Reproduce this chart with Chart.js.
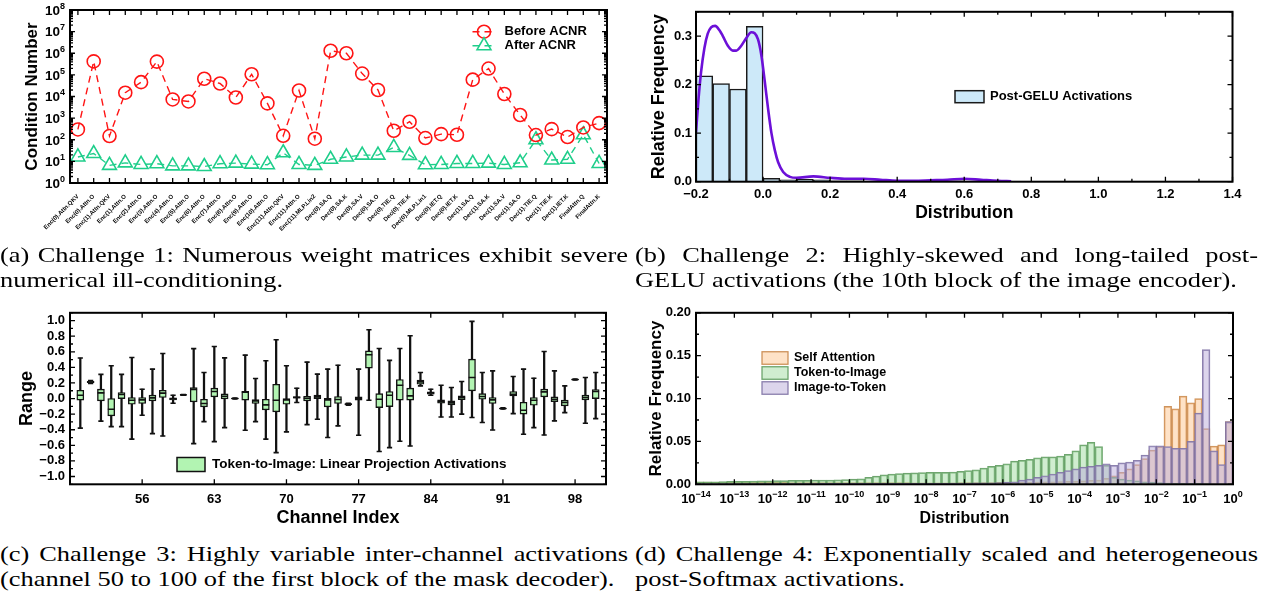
<!DOCTYPE html>
<html>
<head>
<meta charset="utf-8">
<script src="https://cdn.jsdelivr.net/npm/chart.js@4.4.1/dist/chart.umd.min.js"></script>
<style>
html,body{margin:0;padding:0;background:#fff;}
body{width:1263px;height:602px;position:relative;overflow:hidden;}
canvas{position:absolute;}
.cap{position:absolute;font-family:'Liberation Serif','Times New Roman',serif;font-size:22px;line-height:25px;color:#000;transform-origin:0 0;}
.cap span{display:inline-block;white-space:nowrap;}
</style>
</head>
<body>
<canvas id="ca" width="630" height="245" style="left:0;top:0;width:630px;height:245px"></canvas>
<canvas id="cb" width="633" height="245" style="left:630px;top:0;width:633px;height:245px"></canvas>
<canvas id="cc" width="630" height="230" style="left:0;top:300px;width:630px;height:230px"></canvas>
<canvas id="cd" width="633" height="230" style="left:630px;top:300px;width:633px;height:230px"></canvas>

<div class="cap" data-w="628" style="left:0;top:242px">
  <span class="j">(a) Challenge 1: Numerous weight matrices exhibit severe</span><br>
  <span>numerical ill-conditioning.</span>
</div>
<div class="cap" data-w="623" style="left:635px;top:242px">
  <span class="j">(b) Challenge 2: Highly-skewed and long-tailed post-</span><br>
  <span>GELU activations (the 10th block of the image encoder).</span>
</div>
<div class="cap" data-w="628" style="left:0;top:541px">
  <span class="j">(c) Challenge 3: Highly variable inter-channel activations</span><br>
  <span>(channel 50 to 100 of the first block of the mask decoder).</span>
</div>
<div class="cap" data-w="623" style="left:635px;top:541px">
  <span class="j">(d) Challenge 4: Exponentially scaled and heterogeneous</span><br>
  <span>post-Softmax activations.</span>
</div>

<script>
// ================= DATA =================
// (a) condition numbers per weight matrix
const layerNames = ['Enc(0).Attn.QKV','Enc(0).Attn.O','Enc(1).Attn.QKV','Enc(1).Attn.O','Enc(2).Attn.O','Enc(3).Attn.O','Enc(4).Attn.O','Enc(5).Attn.O','Enc(6).Attn.O','Enc(7).Attn.O','Enc(8).Attn.O','Enc(9).Attn.O','Enc(10).Attn.O','Enc(11).Attn.QKV','Enc(11).Attn.O','Enc(11).MLP.Lin2','Dec(0).SA.Q','Dec(0).SA.K','Dec(0).SA.V','Dec(0).SA.O','Dec(0).TIE.Q','Dec(0).TIE.K','Dec(0).MLP.Lin1','Dec(0).IET.Q','Dec(0).IET.K','Dec(1).SA.Q','Dec(1).SA.K','Dec(1).SA.V','Dec(1).SA.O','Dec(1).TIE.Q','Dec(1).TIE.K','Dec(1).IET.K','FinalAttn.Q','FinalAttn.K'];
const beforeACNR = [300,420000,148,15000,46000,410000,7300,5900,66000,40000,9000,107000,4800,152,19000,112,1300000,1000000,115000,20000,260,680,120,182,170,60000,196000,13000,1400,165,310,133,370,590];
const afterACNR  = [16,23,6.5,8.5,7.2,7.8,6.2,6.2,5.8,7.8,8.3,7.5,7,25,7.2,6.5,12.5,16,19.5,19.5,44,19,7,7.2,8,8,8.3,7.2,8.6,100,11.5,12.5,170,8];
const condTicks = [1,10,100,1e3,1e4,1e5,1e6,1e7,1e8];

// (b) post-GELU histogram + density
const geluBinCenters = [-0.175,-0.125,-0.075,-0.025,0.025,0.075,0.125,0.175,0.225,0.275,0.325,0.375,0.425,0.475,0.525,0.575,0.625,0.675,0.725,0.775,0.825,0.875,0.925,0.975,1.025,1.075,1.125,1.175,1.225,1.275,1.325,1.375];
const geluFreq = [0.218,0.202,0.191,0.320,0.007,0.004,0.005,0.004,0.002,0.002,0.001,0.001,0.001,0.001,0.001,0.002,0.001,0.001,0.001,null,null,0.0006,null,null,null,null,null,null,null,null,0.0006,null];
const kdeX = [-0.2,-0.193,-0.185,-0.175,-0.165,-0.155,-0.143,-0.13,-0.12,-0.105,-0.09,-0.08,-0.065,-0.05,-0.035,-0.025,-0.015,-0.005,0.005,0.015,0.025,0.035,0.045,0.06,0.08,0.1,0.15,0.2,0.25,0.3,0.35,0.4,0.45,0.5,0.55,0.6,0.65,0.7,0.74];
const kdeY = [0.102,0.166,0.225,0.275,0.305,0.318,0.321,0.312,0.300,0.280,0.270,0.270,0.280,0.296,0.308,0.306,0.293,0.260,0.207,0.150,0.100,0.065,0.040,0.020,0.010,0.008,0.011,0.008,0.006,0.006,0.004,0.002,0.002,0.003,0.004,0.006,0.004,0.002,0.001];
const geluXTicks = [-0.2,0,0.2,0.4,0.6,0.8,1.0,1.2,1.4];
const geluYTicks = [0,0.1,0.2,0.3];

// (c) per-channel box statistics
const channels = [50,51,52,53,54,55,56,57,58,59,60,61,62,63,64,65,66,67,68,69,70,71,72,73,74,75,76,77,78,79,80,81,82,83,84,85,86,87,88,89,90,91,92,93,94,95,96,97,98,99,100];
const chMin = [-0.38,0.195,-0.29,-0.36,-0.36,-0.52,-0.214,-0.45,-0.48,-0.06,0.044,-0.578,-0.296,-0.552,-0.373,-0.005,-0.407,-0.296,-0.52,-0.694,-0.428,-0.051,-0.334,-0.266,-0.5,-0.351,-0.085,-0.471,-0.021,-0.68,-0.63,-0.548,-0.608,0.163,0.043,-0.236,-0.236,-0.2,-0.244,-0.308,-0.403,-0.135,-0.193,-0.458,-0.373,-0.467,-0.287,-0.18,0.238,-0.317,-0.257];
const chQ1  = [-0.02,0.203,-0.03,-0.223,0.0,-0.073,-0.064,-0.03,0.013,-0.017,0.045,-0.043,-0.107,0.021,-0.004,-0.003,-0.021,-0.064,-0.146,-0.171,-0.073,0.004,-0.03,0.0,-0.107,-0.064,-0.082,-0.021,0.39,-0.116,-0.103,-0.021,-0.021,0.184,0.056,-0.06,-0.081,-0.013,0.099,-0.009,-0.064,-0.132,0.034,-0.2,-0.086,0.021,-0.039,-0.094,0.24,-0.017,0.0];
const chMed = [0.043,0.213,0.073,-0.137,0.051,-0.021,-0.017,0.009,0.069,-0.004,0.047,0.116,-0.064,0.09,0.03,0.0,0.081,-0.03,-0.081,-0.021,-0.017,0.013,0.004,0.021,-0.017,-0.013,-0.073,0.004,0.561,-0.009,0.043,0.171,0.034,0.214,0.073,-0.039,-0.056,0.013,0.27,0.026,-0.017,-0.128,0.056,-0.15,-0.021,0.086,-0.009,-0.051,0.244,0.013,0.09];
const chQ3  = [0.107,0.222,0.12,0.0,0.077,0.013,0.013,0.043,0.107,0.009,0.049,0.141,-0.009,0.133,0.06,0.003,0.094,-0.013,-0.009,0.184,0.0,0.026,0.03,0.043,0.004,0.026,-0.064,0.021,0.612,0.064,0.09,0.244,0.133,0.236,0.086,-0.017,-0.03,0.034,0.505,0.064,0.013,-0.124,0.09,-0.047,0.013,0.12,0.021,-0.021,0.248,0.043,0.116];
const chMax = [0.52,0.232,0.31,0.42,0.31,0.527,0.12,0.377,0.578,0.043,0.05,0.64,0.334,0.668,0.522,0.005,0.557,0.257,0.484,0.754,0.42,0.133,0.467,0.313,0.377,0.428,-0.06,0.377,0.882,0.642,0.49,0.642,0.805,0.334,0.12,0.171,0.141,0.218,0.99,0.334,0.355,-0.12,0.283,0.377,0.261,0.604,0.355,0.163,0.25,0.27,0.334];
const rangeTicks = [-1.0,-0.8,-0.6,-0.4,-0.2,0,0.2,0.4,0.6,0.8,1.0];
const channelTicks = [56,63,70,77,84,91,98];

// (d) post-Softmax histograms, 5 log-bins per decade from 1e-14 to 1
const softmaxBinCount = 70;
const softmaxBinCenters = Array.from({length: softmaxBinCount}, (_, i) => Math.pow(10, -14 + 0.2 * i + 0.1));
const selfAttnFreq = [0.0025,0.0025,0.0024,0.0024,0.0024,0.0023,0.0023,0.0023,0.0022,0.0022,
  0.0022,0.0022,0.0021,0.0021,0.0021,0.002,0.002,0.002,0.002,0.002,
  0.002,0.002,0.002,0.002,0.002,0.0019,0.0019,0.0019,0.0018,0.0018,
  0.0018,0.0018,0.0018,0.0018,0.0019,0.0019,0.002,0.002,0.0021,0.0022,
  0.0023,0.0024,0.0025,0.0026,0.0027,0.0028,0.003,0.0032,0.0034,0.0036,
  0.004,0.0045,0.005,0.007,0.010,0.014,0.018,0.023,0.030,0.040,
  0.044,0.091,0.088,0.103,0.095,0.100,0.065,0.0446,0.046,0.073];
const tokenToImageFreq = [0.003,0.003,0.003,0.0032,0.0034,0.0035,0.0036,0.0038,0.004,0.004,
  0.0042,0.0043,0.0045,0.0045,0.0047,0.0048,0.005,0.005,0.0052,0.0055,
  0.006,0.0065,0.008,0.0095,0.011,0.012,0.0125,0.013,0.0133,0.0137,
  0.014,0.014,0.014,0.0143,0.015,0.016,0.017,0.019,0.021,0.022,
  0.024,0.027,0.028,0.029,0.031,0.032,0.032,0.033,0.035,0.039,
  0.046,0.049,0.044,0.022,0.008,0.006,0.005,0.004,0.003,0.0025,
  0.002,0.0015,0.0012,0.001,0.001,0.001,0.0008,0.0006,0.0005,0.0005];
const imageToTokenFreq = [0.0008,0.0008,0.0008,0.0008,0.0008,0.0008,0.0008,0.0008,0.0008,0.0008,
  0.0008,0.0008,0.0009,0.0009,0.0009,0.0009,0.001,0.001,0.001,0.001,
  0.001,0.001,0.001,0.001,0.001,0.001,0.001,0.001,0.001,0.001,
  0.001,0.0011,0.0012,0.0013,0.0014,0.0015,0.0016,0.0017,0.0018,0.002,
  0.0025,0.003,0.005,0.006,0.008,0.010,0.012,0.014,0.016,0.018,
  0.020,0.021,0.022,0.024,0.022,0.025,0.026,0.028,0.034,0.045,
  0.045,0.044,0.042,0.042,0.050,0.083,0.157,0.039,0.023,0.073];
const softmaxXTicks = [1e-14,1e-13,1e-12,1e-11,1e-10,1e-9,1e-8,1e-7,1e-6,1e-5,1e-4,1e-3,1e-2,1e-1,1];
const freqTicks = [0,0.05,0.10,0.15,0.20];

// ================= CAPTIONS (Palatino-like width on a Times-like face) =================
(function () {
  const S = 1.2;
  document.querySelectorAll('.cap').forEach(c => {
    const l1 = c.querySelector('.j');
    const target = parseFloat(c.dataset.w) / S;
    const w = l1.getBoundingClientRect().width;
    const spaces = (l1.textContent.match(/ /g) || []).length;
    l1.style.wordSpacing = ((target - w) / spaces) + 'px';
    c.style.transform = `scaleX(${S})`;
  });
})();

// ================= HELPERS =================
const FONT = "'Liberation Sans', Arial, Helvetica, sans-serif";
const fnt = (sz, w) => `${w || 'bold'} ${sz}px ${FONT}`;
const minus = s => String(s).replace('-', '\u2212');
const steps = (a, b, st) => { const r = []; for (let k = 0; a + k * st <= b + 1e-9; k++) r.push(+(a + k * st).toFixed(6)); return r; };
const logMinors = (d0, d1) => { const r = []; for (let d = d0; d < d1; d++) for (let m = 2; m <= 9; m++) r.push(m * Math.pow(10, d)); return r; };

Chart.defaults.font.family = FONT;
Chart.defaults.color = '#000';

function framePlugin(o) {
  return { id: 'frame', afterDatasetsDraw(chart) {
    const {ctx, chartArea: a} = chart; const xs = chart.scales.x, ys = chart.scales.y;
    ctx.save(); ctx.strokeStyle = '#000'; ctx.lineWidth = o.tickW || 1.3; ctx.setLineDash([]);
    ctx.beginPath();
    const hx = (vals, len) => (vals || []).forEach(v => { const p = xs.getPixelForValue(v); if (p < a.left - 0.5 || p > a.right + 0.5) return; ctx.moveTo(p, a.bottom); ctx.lineTo(p, a.bottom - len); ctx.moveTo(p, a.top); ctx.lineTo(p, a.top + len); });
    const vy = (vals, len) => (vals || []).forEach(v => { const p = ys.getPixelForValue(v); if (p < a.top - 0.5 || p > a.bottom + 0.5) return; ctx.moveTo(a.left, p); ctx.lineTo(a.left + len, p); ctx.moveTo(a.right, p); ctx.lineTo(a.right - len, p); });
    hx(o.xMajor, o.maj); hx(o.xMinor, o.min); vy(o.yMajor, o.maj); vy(o.yMinor, o.min);
    ctx.stroke();
    ctx.lineWidth = o.frameW || 2; ctx.strokeRect(a.left, a.top, a.right - a.left, a.bottom - a.top);
    ctx.restore();
  }};
}

function powLabelPlugin(o) {
  return { id: 'powLabels', afterDraw(chart) {
    const {ctx, chartArea: a} = chart; const s = chart.scales[o.axis];
    ctx.save(); ctx.fillStyle = '#000'; ctx.textBaseline = 'alphabetic'; ctx.textAlign = 'left';
    o.values.forEach(v => {
      const e = Math.round(Math.log10(v));
      const es = e < 0 ? '\u2212' + (-e) : String(e);
      ctx.font = fnt(o.base); const wb = ctx.measureText('10').width;
      ctx.font = fnt(o.sup); const we = ctx.measureText(es).width;
      const p = s.getPixelForValue(v);
      let x0, yb;
      if (o.axis === 'y') { x0 = a.left - o.pad - we - wb; yb = p + o.base * 0.36; }
      else { x0 = p - (wb + we) / 2; yb = a.bottom + o.pad; }
      ctx.font = fnt(o.base); ctx.fillText('10', x0, yb);
      ctx.font = fnt(o.sup); ctx.fillText(es, x0 + wb, yb - o.rise);
    });
    ctx.restore();
  }};
}

function drawMarker(ctx, style, r, x, y) {
  ctx.beginPath();
  if (style === 'triangle') {
    for (let k = 0; k < 3; k++) { const ang = k * 2 * Math.PI / 3; const px = x + Math.sin(ang) * r, py = y - Math.cos(ang) * r; k ? ctx.lineTo(px, py) : ctx.moveTo(px, py); }
    ctx.closePath();
  } else { ctx.arc(x, y, r, 0, 2 * Math.PI); }
  ctx.stroke();
}

function legendPlugin(o) {
  return { id: 'boxLegend', afterDraw(chart) {
    const ctx = chart.ctx; ctx.save();
    o.items.forEach((di, k) => {
      const ds = chart.data.datasets[di]; const cy = o.y + k * o.rowH;
      if (o.kind === 'line') {
        ctx.strokeStyle = ds.borderColor; ctx.lineWidth = ds.borderWidth; ctx.setLineDash(ds.borderDash || []);
        ctx.beginPath(); ctx.moveTo(o.x, cy); ctx.lineTo(o.x + o.symW, cy); ctx.stroke(); ctx.setLineDash([]);
        ctx.strokeStyle = ds.pointBorderColor; ctx.lineWidth = ds.pointBorderWidth;
        drawMarker(ctx, ds.pointStyle, ds.pointRadius, o.x + o.symW / 2, cy);
      } else {
        ctx.fillStyle = ds.legendFill || ds.backgroundColor; ctx.strokeStyle = ds.legendBorder || ds.borderColor; ctx.lineWidth = o.boxLW;
        ctx.fillRect(o.x, cy - o.boxH / 2, o.symW, o.boxH); ctx.strokeRect(o.x, cy - o.boxH / 2, o.symW, o.boxH);
      }
      ctx.fillStyle = '#000'; ctx.font = o.font; ctx.textBaseline = 'middle'; ctx.textAlign = 'left';
      ctx.fillText(ds.label, o.x + o.symW + o.gap, cy + (o.dy || 0));
    });
    ctx.restore();
  }};
}

function baseOptions(W, area) {
  return {
    responsive: false, animation: false, devicePixelRatio: 1,
    layout: { padding: { left: 0, top: area.top, right: W - area.right, bottom: 0 } },
    plugins: { legend: { display: false }, tooltip: { enabled: false } }
  };
}
const noGrid = { display: false, drawTicks: false };
const noBorder = { display: false };

// ================= (a) =================
(function () {
  const W = 630, H = 245, area = { left: 70, right: 607, top: 10, bottom: 183 };
  const RED = '#ff1414', GREEN = '#1fce8b';
  new Chart(document.getElementById('ca'), {
    type: 'line',
    data: { labels: layerNames, datasets: [
      { label: 'Before ACNR', data: beforeACNR, borderColor: RED, borderWidth: 1.4, borderDash: [7, 5],
        pointStyle: 'circle', pointRadius: 6.5, pointBorderWidth: 1.6, pointBorderColor: RED, pointBackgroundColor: 'rgba(0,0,0,0)',
        backgroundColor: 'rgba(0,0,0,0)', fill: false, tension: 0 },
      { label: 'After ACNR', data: afterACNR, borderColor: GREEN, borderWidth: 1.4, borderDash: [7, 5],
        pointStyle: 'triangle', pointRadius: 8, pointBorderWidth: 1.6, pointBorderColor: GREEN, pointBackgroundColor: 'rgba(0,0,0,0)',
        backgroundColor: 'rgba(0,0,0,0)', fill: false, tension: 0 }
    ]},
    options: Object.assign(baseOptions(W, area), {
      scales: {
        x: { offset: true, grid: { display: false }, border: noBorder,
             ticks: { autoSkip: false, minRotation: 45, maxRotation: 45, padding: 2,
                      font: { family: "'Liberation Sans Narrow', 'Liberation Sans', Arial, sans-serif", size: 6, weight: 'bold' } },
             afterFit: s => { s.height = H - area.bottom; } },
        y: { type: 'logarithmic', min: 1, max: 1e8, grid: noGrid, border: noBorder, ticks: { display: false },
             afterBuildTicks: s => { s.ticks = condTicks.map(v => ({ value: v })); },
             title: { display: true, text: 'Condition Number', font: { size: 17, weight: 'bold' }, padding: { top: 22.5, bottom: 0 } },
             afterFit: s => { s.width = area.left; } }
      }
    }),
    plugins: [
      framePlugin({ xMajor: layerNames.map((_, i) => i), yMajor: condTicks, yMinor: logMinors(0, 8), maj: 5, min: 3 }),
      powLabelPlugin({ axis: 'y', values: condTicks, base: 13.5, sup: 9, pad: 5, rise: 6 }),
      legendPlugin({ kind: 'line', items: [0, 1], x: 472.5, y: 31.7, rowH: 14, symW: 23, gap: 9, font: fnt(13) })
    ]
  });
})();

// ================= (b) =================
(function () {
  const W = 633, H = 245, area = { left: 66, right: 602.5, top: 9.5, bottom: 181.7 };
  new Chart(document.getElementById('cb'), {
    type: 'bar',
    data: { datasets: [
      { type: 'line', label: 'Density', data: kdeX.map((x, i) => ({ x, y: kdeY[i] })), borderColor: '#6c10d8', borderWidth: 2.6,
        pointRadius: 0, cubicInterpolationMode: 'monotone', order: 1 },
      { type: 'bar', label: 'Post-GELU Activations', data: geluBinCenters.map((x, i) => ({ x, y: geluFreq[i] })),
        backgroundColor: '#cde9f9', borderColor: '#1a1a1a', borderWidth: 1.5, categoryPercentage: 1, barPercentage: 1, grouped: false, order: 2 }
    ]},
    options: Object.assign(baseOptions(W, area), {
      scales: {
        x: { type: 'linear', min: -0.2, max: 1.4, offset: false, grid: noGrid, border: noBorder,
             afterBuildTicks: s => { s.ticks = geluXTicks.map(v => ({ value: v })); },
             ticks: { autoSkip: false, maxRotation: 0, padding: 5, font: { size: 13, weight: 'bold' }, callback: v => minus(Number(v).toFixed(1)) },
             title: { display: true, text: 'Distribution', font: { size: 17.5, weight: 'bold' }, padding: { top: 0, bottom: 21 } },
             afterFit: s => { s.height = H - area.bottom; } },
        y: { min: 0, max: 0.35, grid: noGrid, border: noBorder,
             afterBuildTicks: s => { s.ticks = geluYTicks.map(v => ({ value: v })); },
             ticks: { autoSkip: false, padding: 4, font: { size: 13, weight: 'bold' }, callback: v => Number(v).toFixed(1) },
             title: { display: true, text: 'Relative Frequency', font: { size: 18, weight: 'bold' }, padding: { top: 18, bottom: 0 } },
             afterFit: s => { s.width = area.left; } }
      }
    }),
    plugins: [
      framePlugin({ xMajor: geluXTicks, xMinor: steps(-0.1, 1.3, 0.2), yMajor: geluYTicks, yMinor: steps(0.05, 0.35, 0.1), maj: 5, min: 3 }),
      legendPlugin({ kind: 'box', items: [1], x: 325, y: 96.7, rowH: 14, symW: 29, boxH: 12, boxLW: 1.5, gap: 6, font: fnt(13) })
    ]
  });
})();

// ================= (c) =================
(function () {
  const W = 630, H = 230, area = { left: 70, right: 606, top: 11.7, bottom: 184.3 };
  const BOX = '#b2f4b2';
  new Chart(document.getElementById('cc'), {
    type: 'bar',
    data: { datasets: [
      { type: 'bar', label: 'whisker', data: channels.map((c, i) => ({ x: c, y: [chMin[i], chMax[i]] })),
        backgroundColor: '#111', borderWidth: 0, barThickness: 1.6, grouped: false, order: 3 },
      { type: 'bar', label: 'Token-to-Image: Linear Projection Activations', data: channels.map((c, i) => ({ x: c, y: [chQ1[i], chQ3[i]] })),
        backgroundColor: BOX, borderColor: '#111', borderWidth: 1.4, borderSkipped: false, barThickness: 7, grouped: false, order: 2 },
      { type: 'scatter', label: 'caps', data: channels.flatMap((c, i) => [{ x: c, y: chMin[i] }, { x: c, y: chMax[i] }]),
        showLine: false, pointStyle: 'line', pointRadius: 2.6, borderColor: '#111', pointBorderColor: '#111', pointBorderWidth: 1.6, order: 1 },
      { type: 'scatter', label: 'median', data: channels.map((c, i) => ({ x: c, y: chMed[i] })),
        showLine: false, pointStyle: 'line', pointRadius: 3.4, borderColor: '#111', pointBorderColor: '#111', pointBorderWidth: 1.6, order: 0 }
    ]},
    options: Object.assign(baseOptions(W, area), {
      scales: {
        x: { type: 'linear', min: 49, max: 101, offset: false, grid: noGrid, border: noBorder,
             afterBuildTicks: s => { s.ticks = channelTicks.map(v => ({ value: v })); },
             ticks: { autoSkip: false, maxRotation: 0, padding: 7, font: { size: 13, weight: 'bold' } },
             title: { display: true, text: 'Channel Index', font: { size: 18, weight: 'bold' }, padding: { top: 0, bottom: 1 } },
             afterFit: s => { s.height = H - area.bottom; } },
        y: { min: -1.1, max: 1.1, grid: noGrid, border: noBorder,
             afterBuildTicks: s => { s.ticks = rangeTicks.map(v => ({ value: v })); },
             ticks: { autoSkip: false, padding: 5, font: { size: 13, weight: 'bold' }, callback: v => minus(Number(v).toFixed(1)) },
             title: { display: true, text: 'Range', font: { size: 18, weight: 'bold' }, padding: { top: 16, bottom: 0 } },
             afterFit: s => { s.width = area.left; } }
      }
    }),
    plugins: [
      framePlugin({ xMajor: channelTicks, yMajor: rangeTicks, yMinor: steps(-1.1, 1.1, 0.2), maj: 5, min: 3 }),
      legendPlugin({ kind: 'box', items: [1], x: 177, y: 164.5, rowH: 14, symW: 28, boxH: 14, boxLW: 1.5, gap: 7, font: fnt(13.5) })
    ]
  });
})();

// ================= (d) =================
(function () {
  const W = 633, H = 230, area = { left: 66, right: 603, top: 12, bottom: 184.3 };
  const mk = (label, vals, fill, border, order) => ({
    type: 'bar', label, data: softmaxBinCenters.map((x, i) => ({ x, y: vals[i] })),
    backgroundColor: fill, borderColor: border, borderWidth: 1.1, categoryPercentage: 1, barPercentage: 1, grouped: false, order
  });
  new Chart(document.getElementById('cd'), {
    type: 'bar',
    data: { datasets: [
      mk('Self Attention', selfAttnFreq, 'rgba(252,190,130,0.45)', 'rgba(200,135,75,0.9)', 3),
      mk('Token-to-Image', tokenToImageFreq, 'rgba(150,215,150,0.45)', 'rgba(95,155,95,0.9)', 2),
      mk('Image-to-Token', imageToTokenFreq, 'rgba(185,172,218,0.5)', 'rgba(128,115,165,0.9)', 1)
    ]},
    options: Object.assign(baseOptions(W, area), {
      scales: {
        x: { type: 'logarithmic', min: 1e-14, max: 1, offset: false, grid: noGrid, border: noBorder, ticks: { display: false },
             afterBuildTicks: s => { s.ticks = softmaxXTicks.map(v => ({ value: v })); },
             title: { display: true, text: 'Distribution', font: { size: 16, weight: 'bold' }, padding: { top: 0, bottom: 2 } },
             afterFit: s => { s.height = H - area.bottom; } },
        y: { min: 0, max: 0.2, grid: noGrid, border: noBorder,
             afterBuildTicks: s => { s.ticks = freqTicks.map(v => ({ value: v })); },
             ticks: { autoSkip: false, padding: 5, font: { size: 13, weight: 'bold' }, callback: v => Number(v).toFixed(2) },
             title: { display: true, text: 'Relative Frequency', font: { size: 17, weight: 'bold' }, padding: { top: 16, bottom: 0 } },
             afterFit: s => { s.width = area.left; } }
      }
    }),
    plugins: [
      framePlugin({ xMajor: softmaxXTicks, yMajor: freqTicks, yMinor: steps(0.025, 0.175, 0.05), maj: 5, min: 3 }),
      powLabelPlugin({ axis: 'x', values: softmaxXTicks, base: 13, sup: 9, pad: 19, rise: 6.5 }),
      legendPlugin({ kind: 'box', items: [0, 1, 2], x: 132, y: 58, rowH: 15, symW: 26, boxH: 12.5, boxLW: 1.3, gap: 6, font: fnt(12.5) })
    ]
  });
})();
</script>
</body>
</html>
